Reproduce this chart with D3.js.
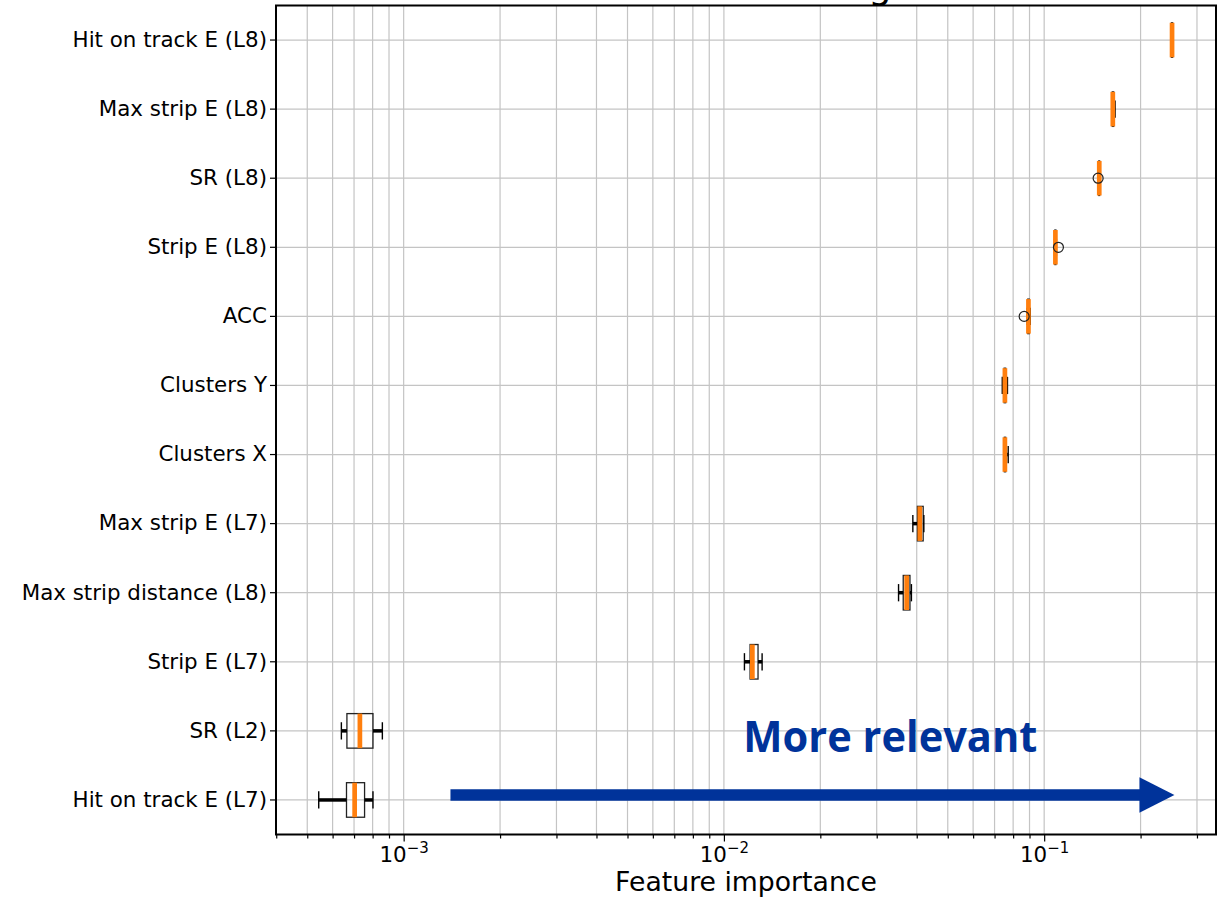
<!DOCTYPE html>
<html>
<head>
<meta charset="utf-8">
<script src="https://cdn.jsdelivr.net/npm/d3@7"></script>
<style>
  body { margin: 0; background: #fff; }
  svg { display: block; }
  svg text { font-family: "DejaVu Sans", sans-serif; }
  .grid line { stroke: #c4c4c4; stroke-width: 1.2; }
  .axis path { display: none; }
  .axis line { stroke: #000; stroke-width: 1.2; }
  .axis text { fill: #000; font-family: "DejaVu Sans", sans-serif; }
</style>
</head>
<body>
<div id="chart"></div>
<script>
// features listed top to bottom
var features = ["Hit on track E (L8)", "Max strip E (L8)", "SR (L8)", "Strip E (L8)", "ACC",
  "Clusters Y", "Clusters X", "Max strip E (L7)", "Max strip distance (L8)", "Strip E (L7)",
  "SR (L2)", "Hit on track E (L7)"];
var lows    = [0.2485, 0.1625, 0.1478, 0.1077, 0.0885, 0.0740, 0.0748, 0.0389, 0.0351, 0.01159, 6.39e-4, 5.43e-4];
var q1s     = [0.2497, 0.1632, 0.1481, 0.1080, 0.0889, 0.0750, 0.0751, 0.0402, 0.0363, 0.01207, 6.65e-4, 6.63e-4];
var medians = [0.2508, 0.1638, 0.1486, 0.1084, 0.0893, 0.0754, 0.0754, 0.0409, 0.0372, 0.01227, 7.30e-4, 7.03e-4];
var q3s     = [0.2518, 0.1648, 0.1490, 0.1088, 0.0898, 0.0758, 0.0758, 0.0419, 0.0381, 0.01278, 8.02e-4, 7.55e-4];
var highs   = [0.2530, 0.1665, 0.1494, 0.1092, 0.0905, 0.0768, 0.0772, 0.0421, 0.0385, 0.01316, 8.58e-4, 8.02e-4];
var fliers  = [[], [], [0.1474], [0.1108], [0.0866], [], [], [], [], [], [], []];

var majorTicks = [1e-3, 1e-2, 1e-1];
var majorLabels = ["\u22123", "\u22122", "\u22121"];

var margin = { top: 5.5, right: 9, bottom: 64.5, left: 276 },
  width = 1225 - margin.left - margin.right,
  height = 899 - margin.top - margin.bottom;

// matplotlib-like 5% margins in log space
var lo = Math.log10(d3.min(lows)), hi = Math.log10(d3.max(highs)), pad = (hi - lo) * 0.05;

var x = d3.scaleLog()
  .domain([Math.pow(10, lo - pad), Math.pow(10, hi + pad)])
  .range([0, width]);

var y = d3.scaleBand()
  .domain(features)
  .range([0, height]);

var bw = y.bandwidth() * 0.5;
function cy(f) { return y(f) + y.bandwidth() / 2; }

var minorTicks = [];
[1e-4, 1e-3, 1e-2, 1e-1].forEach(function (d) {
  d3.range(2, 10).forEach(function (k) {
    var v = d * k;
    if (v >= x.domain()[0] && v <= x.domain()[1]) minorTicks.push(v);
  });
});

var svg = d3.select("#chart").append("svg")
  .attr("width", 1225)
  .attr("height", 899);

// title sits above the page edge, only a descender shows
svg.append("text")
  .attr("x", margin.left + width / 2)
  .attr("y", -2.5)
  .attr("text-anchor", "middle")
  .style("font-size", "37px")
  .text("Feature ranking");

var g = svg.append("g")
  .attr("transform", "translate(" + margin.left + "," + margin.top + ")");

// grid
var grid = g.append("g").attr("class", "grid");
grid.selectAll(".vx")
  .data(majorTicks.concat(minorTicks))
  .enter().append("line")
  .attr("x1", function (d) { return x(d); })
  .attr("x2", function (d) { return x(d); })
  .attr("y1", 0)
  .attr("y2", height);
grid.selectAll(".hy")
  .data(features)
  .enter().append("line")
  .attr("x1", 0)
  .attr("x2", width)
  .attr("y1", cy)
  .attr("y2", cy);

// axes
g.append("g")
  .attr("class", "axis axis--minor")
  .attr("transform", "translate(0," + height + ")")
  .call(d3.axisBottom(x).tickValues(minorTicks).tickSize(4).tickFormat(""));

var xa = g.append("g")
  .attr("class", "axis axis--x")
  .attr("transform", "translate(0," + height + ")")
  .call(d3.axisBottom(x).tickValues(majorTicks).tickSize(7).tickPadding(4).tickFormat(""));

xa.selectAll(".tick text")
  .attr("dy", null)
  .attr("y", 27)
  .style("font-size", "21.4px")
  .attr("text-anchor", "middle")
  .each(function (d, i) {
    var t = d3.select(this);
    t.append("tspan").text("10");
    t.append("tspan").attr("dy", -9).style("font-size", "15px").text(majorLabels[i]);
  });

g.append("g")
  .attr("class", "axis axis--y")
  .call(d3.axisLeft(y).tickSize(6).tickPadding(3))
  .selectAll("text")
  .style("font-size", "21.4px");

g.append("text")
  .attr("x", width / 2)
  .attr("y", height + 56)
  .attr("text-anchor", "middle")
  .style("font-size", "26.7px")
  .text("Feature importance");

// boxes
var rows = features.map(function (f, i) {
  return { f: f, lo: lows[i], q1: q1s[i], med: medians[i], q3: q3s[i], hi: highs[i], fl: fliers[i] };
});

var box = g.selectAll(".box")
  .data(rows)
  .enter().append("g")
  .attr("class", "box");

box.append("rect")
  .attr("x", function (d) { return x(d.q1); })
  .attr("y", function (d) { return cy(d.f) - bw / 2; })
  .attr("width", function (d) { return x(d.q3) - x(d.q1); })
  .attr("height", bw)
  .attr("fill", "none")
  .attr("stroke", "#222")
  .attr("stroke-width", 1.3);

box.append("line")
  .attr("x1", function (d) { return x(d.lo); })
  .attr("x2", function (d) { return x(d.q1); })
  .attr("y1", function (d) { return cy(d.f); })
  .attr("y2", function (d) { return cy(d.f); })
  .attr("stroke", "#000").attr("stroke-width", 3.5);

box.append("line")
  .attr("x1", function (d) { return x(d.q3); })
  .attr("x2", function (d) { return x(d.hi); })
  .attr("y1", function (d) { return cy(d.f); })
  .attr("y2", function (d) { return cy(d.f); })
  .attr("stroke", "#000").attr("stroke-width", 3.5);

["lo", "hi"].forEach(function (k) {
  box.append("line")
    .attr("x1", function (d) { return x(d[k]); })
    .attr("x2", function (d) { return x(d[k]); })
    .attr("y1", function (d) { return cy(d.f) - bw / 4; })
    .attr("y2", function (d) { return cy(d.f) + bw / 4; })
    .attr("stroke", "#000").attr("stroke-width", 1.4);
});

box.append("line")
  .attr("x1", function (d) { return x(d.med); })
  .attr("x2", function (d) { return x(d.med); })
  .attr("y1", function (d) { return cy(d.f) - bw / 2; })
  .attr("y2", function (d) { return cy(d.f) + bw / 2; })
  .attr("stroke", "#ff7f0e").attr("stroke-width", 4.7);

box.selectAll(".flier")
  .data(function (d) { return d.fl.map(function (v) { return { f: d.f, v: v }; }); })
  .enter().append("circle")
  .attr("cx", function (d) { return x(d.v); })
  .attr("cy", function (d) { return cy(d.f); })
  .attr("r", 5)
  .attr("fill", "none")
  .attr("stroke", "#222")
  .attr("stroke-width", 1.2);

// annotation arrow
var blue = "#00339a";
var arrowStart = 1.4e-3, arrowTip = 0.2551, headLen = 35, headHalf = 17.7, arrowY = cy("Hit on track E (L7)") - 5;

g.append("line")
  .attr("x1", x(arrowStart))
  .attr("x2", x(arrowTip) - headLen + 1)
  .attr("y1", arrowY)
  .attr("y2", arrowY)
  .attr("stroke", blue)
  .attr("stroke-width", 11.5);

g.append("path")
  .attr("d", "M" + x(arrowTip) + "," + arrowY +
    "L" + (x(arrowTip) - headLen) + "," + (arrowY - headHalf) +
    "L" + (x(arrowTip) - headLen) + "," + (arrowY + headHalf) + "Z")
  .attr("fill", blue);

g.append("text")
  .attr("x", x(0.0115))
  .attr("y", cy("SR (L2)") + 21)
  .attr("fill", blue)
  .attr("textLength", 294)
  .attr("lengthAdjust", "spacingAndGlyphs")
  .style("font-family", "'Open Sans', sans-serif")
  .style("font-weight", "bold")
  .style("font-size", "43px")
  .text("More relevant");

// frame
g.append("rect")
  .attr("width", width)
  .attr("height", height)
  .attr("fill", "none")
  .attr("stroke", "#000")
  .attr("stroke-width", 2);
</script>
</body>
</html>
